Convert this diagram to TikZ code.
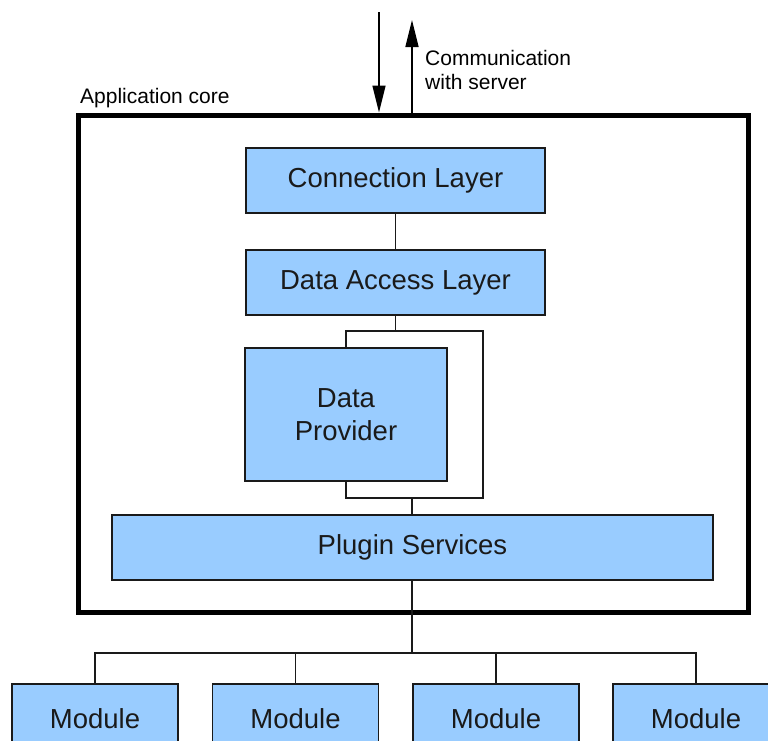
\documentclass[tikz,border=0pt]{standalone}
\usepackage{fontspec}
\setmainfont{Liberation Sans}
\usetikzlibrary{arrows.meta}
\definecolor{boxblue}{HTML}{99CCFF}
\definecolor{ink}{HTML}{1A1A1A}
\begin{document}
\begin{tikzpicture}[x=1pt,y=-1pt,
  layer/.style={draw=ink, line width=1.5pt, fill=boxblue, text=ink,
    inner sep=0pt, font=\fontsize{27.5}{33}\selectfont, align=center},
  wire/.style={draw=ink, line width=1.4pt},
  bigarrow/.style={draw=black, line width=1.6pt,
    -{Triangle[length=27pt,width=13pt]}},
  caption/.style={text=black, inner sep=0pt, font=\fontsize{21}{24}\selectfont, align=left}]
  \useasboundingbox (0,0) rectangle (768,740);
  \clip (0,0) rectangle (768,740);
  \fill[white] (0,0) rectangle (768,740);

  % application core frame
  \node[draw=black, line width=5pt, minimum width=670pt, minimum height=497pt,
        inner sep=0pt] (core) at (413,363.5) {};
  \node[caption, anchor=base west] (corelabel) at (80,103) {Application core};

  % traffic to and from the server
  \coordinate (downtop) at (379,12);
  \coordinate (uptop) at (412,20);
  \draw[bigarrow] (downtop) -- (downtop |- core.north);
  \draw[bigarrow] (uptop |- core.north) -- (uptop);
  \node[caption, anchor=base west] (commlabel) at (425,89)
       {Communication\\with server};

  % core layers
  \node[layer, minimum width=299pt, minimum height=65pt] (conn) at (395.5,180.5) {Connection Layer};
  \node[layer, minimum width=299pt, minimum height=65pt] (dal) at (395.5,282.5) {Data Access Layer};
  \node[layer, minimum width=202pt, minimum height=133pt] (dp) at (346,414.5) {Data\\Provider};
  \node[layer, minimum width=601pt, minimum height=65pt] (plugin) at (412.5,547.5) {Plugin Services};

  \draw[wire] (conn.south) -- (dal.north);

  % bypass loop around the data provider
  \coordinate (lt) at (346,331);
  \coordinate (rt) at (483,331);
  \coordinate (rb) at (483,498);
  \coordinate (lb) at (346,498);
  \draw[wire] (dp.north -| lt) -- (lt) -- (rt) -- (rb) -- (lb) -- (dp.south -| lb);
  \draw[wire] (dal.south) -- (dal.south |- lt);
  \coordinate (loopout) at (412,498);
  \draw[wire] (loopout) -- (loopout |- plugin.north);

  % modules
  \foreach \i/\x in {1/95,2/295.5,3/496,4/696}{
    \node[layer, minimum width=166pt, minimum height=70pt] (mod\i) at (\x,719) {Module};
  }
  \coordinate (bus) at (412,653);
  \draw[wire] (plugin.south -| bus) -- (bus);
  \draw[wire] (mod1.north) -- (mod1.north |- bus) -- (mod4.north |- bus) -- (mod4.north);
  \draw[wire] (mod2.north) -- (mod2.north |- bus);
  \draw[wire] (mod3.north) -- (mod3.north |- bus);
\end{tikzpicture}
\end{document}
